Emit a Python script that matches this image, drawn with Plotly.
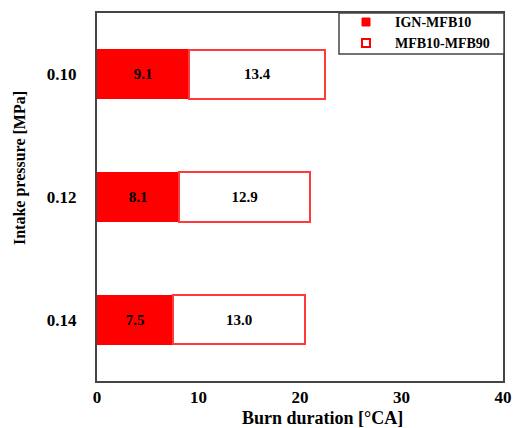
import plotly.graph_objects as go

pressures = ["0.10", "0.12", "0.14"]
ign_mfb10 = [9.1, 8.1, 7.5]
mfb10_mfb90 = [13.4, 12.9, 13.0]
x_ticks = [0, 10, 20, 30, 40]
legend_names = ["IGN-MFB10", "MFB10-MFB90"]

font_family = "Liberation Serif"
red = "#ff0000"
outline_red = "#ff3a3a"

# plot area in pixels (for converting legend box placement to paper coords)
L, R, T, B = 97, 503, 13, 381
def px(x):
    return (x - L) / (R - L)
def py(y):
    return (B - y) / (B - T)

fig = go.Figure()
fig.add_trace(go.Bar(
    y=pressures, x=ign_mfb10, orientation="h", name=legend_names[0],
    marker=dict(color=red, line=dict(color=red, width=1)),
    text=[f"{v:.1f}" for v in ign_mfb10], textposition="inside",
    insidetextanchor="middle", constraintext="none",
    textfont=dict(family=font_family, size=15, color="black", weight="bold"),
    width=0.4, showlegend=False,
))
fig.add_trace(go.Bar(
    y=pressures, x=mfb10_mfb90, orientation="h", name=legend_names[1],
    marker=dict(color="white", line=dict(color=outline_red, width=2)),
    text=[f"{v:.1f}" for v in mfb10_mfb90], textposition="inside",
    insidetextanchor="middle", constraintext="none",
    textfont=dict(family=font_family, size=15, color="black", weight="bold"),
    width=0.4, showlegend=False,
))

shapes = [
    # legend frame
    dict(type="rect", xref="paper", yref="paper",
         x0=px(339), x1=px(504), y0=py(54), y1=py(13),
         line=dict(color="#444", width=1.5), fillcolor="white", layer="above"),
    # legend symbols
    dict(type="rect", xref="paper", yref="paper",
         x0=px(362), x1=px(370), y0=py(26), y1=py(18),
         line=dict(color=red, width=1), fillcolor=red, layer="above"),
    dict(type="rect", xref="paper", yref="paper",
         x0=px(362), x1=px(370), y0=py(47), y1=py(39),
         line=dict(color=red, width=2), fillcolor="white", layer="above"),
]
annotations = [
    dict(text=legend_names[0], xref="paper", yref="paper", x=px(393), y=py(22),
         xanchor="left", yanchor="middle", showarrow=False,
         font=dict(family=font_family, size=14, color="black", weight="bold")),
    dict(text=legend_names[1], xref="paper", yref="paper", x=px(393), y=py(43),
         xanchor="left", yanchor="middle", showarrow=False,
         font=dict(family=font_family, size=14, color="black", weight="bold")),
    dict(text="Intake pressure [MPa]", xref="paper", yref="paper",
         x=px(20), y=py(168), textangle=-90,
         showarrow=False, xanchor="center", yanchor="middle",
         font=dict(family=font_family, size=16, color="black", weight="bold")),
    dict(text="Burn duration [°CA]", xref="paper", yref="paper",
         x=px(322), y=py(418),
         showarrow=False, xanchor="center", yanchor="middle",
         font=dict(family=font_family, size=18, color="black", weight="bold")),
]

fig.update_layout(
    width=514, height=428,
    margin=dict(l=97, r=11, t=13, b=47),
    barmode="stack",
    plot_bgcolor="white", paper_bgcolor="white",
    font=dict(family=font_family, color="black"),
    showlegend=False,
    shapes=shapes,
    annotations=annotations,
)
fig.update_xaxes(
    range=[0, 40], tickvals=x_ticks, showgrid=False, zeroline=False,
    showline=True, linecolor="#444", linewidth=2, mirror=True, ticks="",
    automargin=False, ticklabelstandoff=0,
    tickfont=dict(family=font_family, size=17, color="black", weight="bold"),
)
fig.update_yaxes(
    type="category", autorange="reversed", showgrid=False, zeroline=False,
    showline=True, linecolor="#444", linewidth=2, mirror=True, ticks="",
    automargin=False, ticklabelstandoff=15,
    tickfont=dict(family=font_family, size=17, color="black", weight="bold"),
)

fig.write_html("out.html")
